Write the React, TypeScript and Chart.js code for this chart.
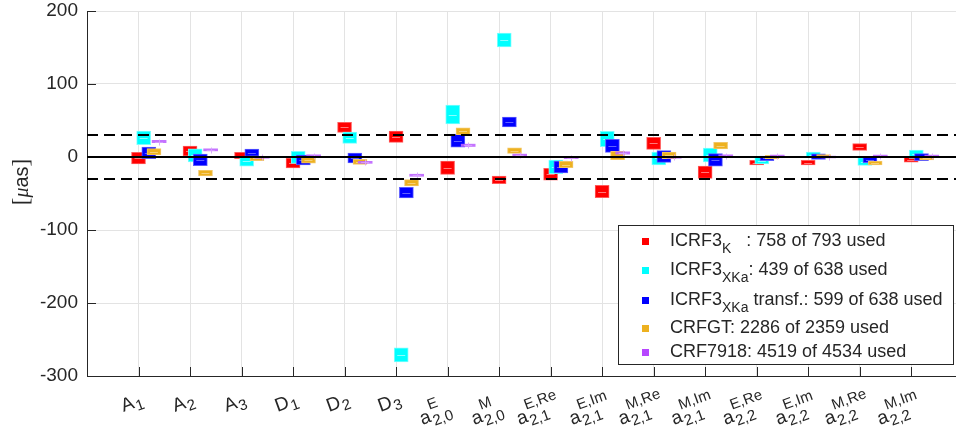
import React, { useEffect, useRef } from "react";
import { Chart, registerables } from "chart.js";
Chart.register(...registerables);

// ---------- data ----------
const categoryMain = ["A", "A", "A", "D", "D", "D", "a", "a", "a", "a", "a", "a", "a", "a", "a", "a"];
const categorySub = ["1", "2", "3", "1", "2", "3", "2,0", "2,0", "2,1", "2,1", "2,1", "2,1", "2,2", "2,2", "2,2", "2,2"];
const categorySup = ["", "", "", "", "", "", "E", "M", "E,Re", "E,Im", "M,Re", "M,Im", "E,Re", "E,Im", "M,Re", "M,Im"];

const icrf3kValues = [-1.6, 8.2, 2, -8.2, 40.6, 27.8, -14.6, -31.3, -23.7, -47.3, 18.7, -20.8, -7.8, -7.8, 13.7, -3.8];
const icrf3kErrors = [8, 6.8, 4.3, 6.8, 6.8, 7.8, 9.1, 5.3, 8.2, 8.5, 8.2, 8.5, 3.2, 3.2, 4.6, 3.4];

const icrf3xkaValues = [26.3, 2.3, -6, -0.5, 26.5, -271, 58.2, 160.3, -13.5, 24.7, -2, 2.7, -5, 3, -6.2, 3.9];
const icrf3xkaErrors = [9.3, 9, 6.6, 8.2, 7.8, 9.6, 13, 9.6, 9.4, 10.5, 8.9, 9.6, 4.6, 3.9, 5.3, 5.7];

const icrf3xkaTransfValues = [5.7, -3.9, 5.5, -4.1, -1.4, -48.9, 22.4, 48, -13.7, 15.3, 0.7, -3.9, -1.8, 0.5, -3.7, -0.2];
const icrf3xkaTransfErrors = [8, 8, 5.5, 6.8, 6.8, 7.3, 9.1, 6.8, 8.2, 8.9, 8, 8.5, 3.2, 3.7, 4.1, 4.8];

const crfgtValues = [7.1, -22, -1.8, -4.4, -6.6, -35.4, 35.2, 8.7, -10.3, 2, 2.3, 15.5, -0.2, 0.9, -8.2, -1.8];
const crfgtErrors = [4.3, 3.9, 3.2, 3.9, 3.4, 4.3, 4.6, 3.7, 4.3, 5.7, 4.6, 4.6, 2.5, 2.3, 2.7, 2.3];

const crf7918Values = [21.2, 9.8, -0.5, 1.8, -7.3, -25, 16, 2.7, -1, 5.5, -0.5, 1.8, 1.4, 0, 1.4, 1.4];
const crf7918Errors = [1.6, 1.4, 1.2, 1.2, 1.4, 1.4, 1.6, 1.2, 1.2, 1.6, 1.2, 1.2, 1.2, 1.2, 1.2, 1.2];

const legendMain = ["ICRF3", "ICRF3", "ICRF3", "CRFGT: 2286 of 2359 used", "CRF7918: 4519 of 4534 used"];
const legendSub = ["K", "XKa", "XKa", "", ""];
const legendRest = ["   : 758 of 793 used", ": 439 of 638 used", " transf.: 599 of 638 used", "", ""];

const yTicks = [-300, -200, -100, 0, 100, 200];
const zeroLine = 0;
const limitLines = [30, -30];

// ---------- styles ----------
const SANS = "'Liberation Sans', Arial, Helvetica, sans-serif";
const SERIF = "'Liberation Serif', 'Times New Roman', serif";
const TEXT = "#262626";
const X_MAX = 16.87;

const seriesStyles = [
  { values: icrf3kValues, errors: icrf3kErrors, fill: "rgb(255,0,0)", edge: "rgb(255,90,90)", mid: "rgba(255,150,150,0.8)", offset: 0 },
  { values: icrf3xkaValues, errors: icrf3xkaErrors, fill: "rgb(0,255,255)", edge: "rgb(120,255,255)", mid: "rgba(170,255,255,0.8)", offset: 0.1 },
  { values: icrf3xkaTransfValues, errors: icrf3xkaTransfErrors, fill: "rgb(0,0,255)", edge: "rgb(90,90,255)", mid: "rgba(120,120,255,0.8)", offset: 0.2 },
  { values: crfgtValues, errors: crfgtErrors, fill: "rgb(237,177,32)", edge: "rgb(242,198,100)", mid: "rgba(248,215,140,0.8)", offset: 0.3 },
  { values: crf7918Values, errors: crf7918Errors, fill: "rgba(190,100,255,0.9)", edge: "rgba(200,130,255,0.9)", mid: "rgba(215,160,255,0.9)", offset: 0.4 },
];
const legendColors = ["rgb(255,0,0)", "rgb(0,255,255)", "rgb(0,0,255)", "rgb(237,177,32)", "rgb(183,70,255)"];

const customPlugin = {
  id: "custom",
  beforeDatasetsDraw(chart: any) {
    const ctx = chart.ctx;
    const { left, bottom } = chart.chartArea;
    const xs = chart.scales.x;
    const ys = chart.scales.y;
    ctx.save();
    ctx.strokeStyle = TEXT;
    ctx.lineWidth = 1;
    ctx.beginPath();
    categoryMain.forEach((_, i) => {
      const px = Math.round(xs.getPixelForValue(i + 1)) + 0.5;
      ctx.moveTo(px, bottom);
      ctx.lineTo(px, bottom - 9);
    });
    yTicks.forEach((t) => {
      const py = Math.round(ys.getPixelForValue(t)) + 0.5;
      ctx.moveTo(left, py);
      ctx.lineTo(left + 9, py);
    });
    ctx.stroke();
    ctx.restore();
  },
  afterDatasetDraw(chart: any, args: any) {
    const ds = chart.data.datasets[args.index];
    if (ds.type !== "bar") return;
    const ctx = chart.ctx;
    const meta = args.meta;
    ctx.save();
    ctx.strokeStyle = ds.midColor;
    ctx.lineWidth = 1;
    meta.data.forEach((el: any) => {
      const mid = Math.round((el.y + el.base) / 2) + 0.5;
      const half = el.width / 2;
      ctx.beginPath();
      ctx.moveTo(el.x - half + 3, mid);
      ctx.lineTo(el.x + half - 3, mid);
      if (ds.isThin) {
        ctx.moveTo(Math.round(el.x) + 0.5, mid - 3);
        ctx.lineTo(Math.round(el.x) + 0.5, mid + 3);
      }
      ctx.stroke();
    });
    ctx.restore();
  },
  afterDraw(chart: any) {
    const ctx = chart.ctx;
    const xs = chart.scales.x;
    ctx.save();
    ctx.fillStyle = TEXT;
    ctx.textBaseline = "alphabetic";
    ctx.textAlign = "left";
    // x tick labels with sub/superscripts
    const mainFont = `19px ${SANS}`;
    const smallFont = `15px ${SANS}`;
    categoryMain.forEach((m, i) => {
      const sub = categorySub[i];
      const sup = categorySup[i];
      ctx.font = mainFont;
      const mw = ctx.measureText(m).width;
      ctx.font = smallFont;
      const sw = Math.max(ctx.measureText(sub).width, ctx.measureText(sup).width);
      const w = mw + 1 + sw;
      const tick = xs.getPixelForValue(i + 1);
      const ax = tick - 0.5 * w - (sup ? 9 : 4);
      const ay = sup ? 425 : 412;
      ctx.save();
      ctx.translate(ax, ay);
      ctx.rotate((-20 * Math.PI) / 180);
      ctx.font = mainFont;
      ctx.fillText(m, 0, 0);
      ctx.font = smallFont;
      ctx.fillText(sub, mw + 1, sup ? 5 : 4);
      if (sup) ctx.fillText(sup, mw + 1, -12);
      ctx.restore();
    });

    // y title  [μas]
    ctx.save();
    ctx.translate(28, 182);
    ctx.rotate(-Math.PI / 2);
    const parts = [
      { t: "[", f: `23px ${SERIF}` },
      { t: "μ", f: `italic 20px ${SERIF}` },
      { t: "as", f: `20px ${SANS}` },
      { t: "]", f: `23px ${SERIF}` },
    ];
    let tw = 0;
    parts.forEach((p) => {
      ctx.font = p.f;
      tw += ctx.measureText(p.t).width;
    });
    let cx = -tw / 2;
    parts.forEach((p) => {
      ctx.font = p.f;
      ctx.fillText(p.t, cx, 0);
      cx += ctx.measureText(p.t).width;
    });
    ctx.restore();

    // legend
    const bx = 618, by = 225, bw = 335, bh = 139;
    ctx.fillStyle = "#ffffff";
    ctx.fillRect(bx, by, bw, bh);
    ctx.strokeStyle = TEXT;
    ctx.lineWidth = 1;
    ctx.strokeRect(bx + 0.5, by + 0.5, bw, bh);
    const baselines = [246, 275, 305, 333, 357];
    legendMain.forEach((m, i) => {
      const base = baselines[i];
      ctx.fillStyle = legendColors[i];
      ctx.fillRect(642, base - 8, 7, 7);
      ctx.fillStyle = TEXT;
      ctx.font = `18px ${SANS}`;
      let x = 670;
      ctx.fillText(m, x, base);
      x += ctx.measureText(m).width;
      if (legendSub[i]) {
        ctx.font = `14px ${SANS}`;
        ctx.fillText(legendSub[i], x, base + 7);
        x += ctx.measureText(legendSub[i]).width;
      }
      if (legendRest[i]) {
        ctx.font = `18px ${SANS}`;
        ctx.fillText(legendRest[i], x, base);
      }
    });
    ctx.restore();
  },
};

export default function App() {
  const ref = useRef<HTMLCanvasElement>(null);
  useEffect(() => {
    const canvas = ref.current!;
    const barSets = seriesStyles.map((s, k) => ({
      type: "bar" as const,
      data: s.values.map((v, i) => ({ x: i + 1 + s.offset, y: [v - s.errors[i], v + s.errors[i]] })),
      backgroundColor: s.fill,
      borderColor: s.edge,
      borderWidth: k === 4 ? 0 : 1,
      borderSkipped: false,
      barThickness: 14,
      grouped: false,
      order: 5 - k,
      midColor: s.mid,
      isThin: k === 4,
    }));
    const lineSets = [
      {
        type: "line" as const,
        data: [{ x: 0, y: zeroLine }, { x: X_MAX, y: zeroLine }],
        borderColor: "#000000",
        borderWidth: 2,
        pointRadius: 0,
        order: 0,
      },
      ...limitLines.map((v) => ({
        type: "line" as const,
        data: [{ x: 0, y: v }, { x: X_MAX, y: v }],
        borderColor: "#000000",
        borderWidth: 2,
        borderDash: [11, 6],
        pointRadius: 0,
        order: 0,
      })),
    ];
    const chart = new Chart(canvas, {
      type: "bar",
      data: { datasets: [...barSets, ...lineSets] as any },
      options: {
        responsive: false,
        animation: false,
        devicePixelRatio: 1,
        layout: { padding: { top: 11, bottom: 58, left: 0, right: 0 } },
        plugins: { legend: { display: false }, tooltip: { enabled: false } },
        scales: {
          x: {
            type: "linear",
            min: 0,
            max: X_MAX,
            offset: false,
            grid: { offset: false, color: "#e3e3e3", lineWidth: 1, drawTicks: false },
            border: { display: true, color: TEXT, width: 1 },
            ticks: { display: false },
            afterBuildTicks: (s: any) => {
              s.ticks = categoryMain.map((_, i) => ({ value: i + 1 }));
            },
            afterFit: (s: any) => {
              s.height = 0;
              s.paddingLeft = 0;
              s.paddingRight = 0;
            },
          },
          y: {
            type: "linear",
            min: -300,
            max: 200,
            grid: { color: "#e3e3e3", lineWidth: 1, drawTicks: false },
            border: { display: true, color: TEXT, width: 1 },
            ticks: {
              stepSize: 100,
              padding: 9,
              color: TEXT,
              font: { family: SANS, size: 19 },
            },
            afterBuildTicks: (s: any) => {
              s.ticks = yTicks.map((v) => ({ value: v }));
            },
            afterFit: (s: any) => {
              s.width = 87;
              s.paddingTop = 0;
              s.paddingBottom = 0;
            },
          },
        },
      },
      plugins: [customPlugin],
    });
    return () => chart.destroy();
  }, []);
  return (
    <div style={{ position: "fixed", left: 0, top: 0, width: 956, height: 434, background: "#fff" }}>
      <canvas ref={ref} width={956} height={434} style={{ display: "block", width: 956, height: 434 }} />
    </div>
  );
}
